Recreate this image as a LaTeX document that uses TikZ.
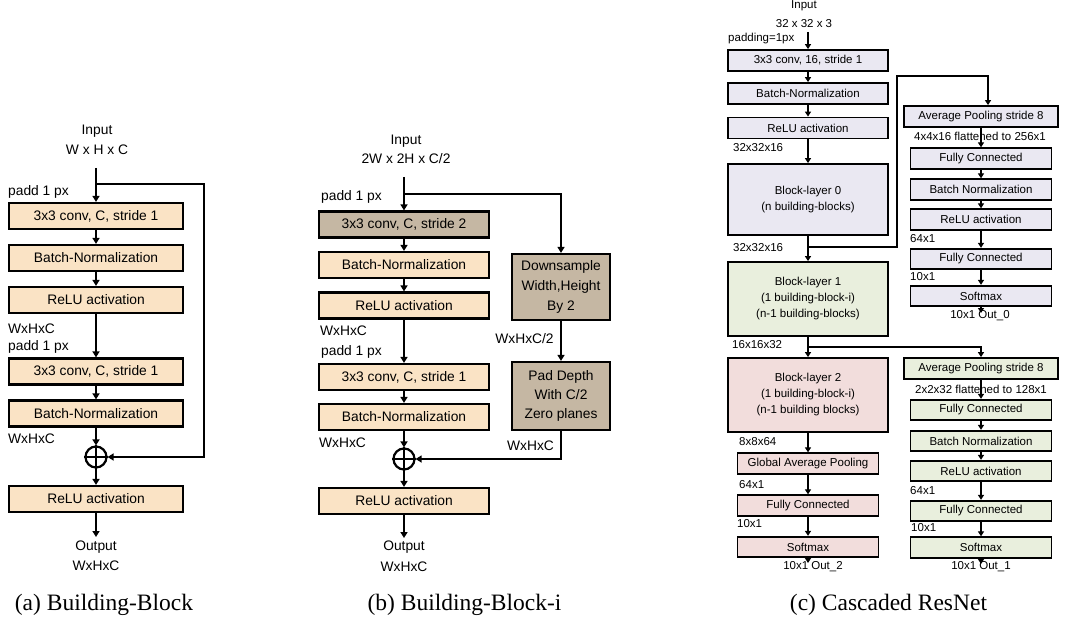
\documentclass[tikz,border=0pt]{standalone}
\usepackage{fontspec}
\setmainfont{Liberation Sans}
\newfontfamily\capfont{Liberation Serif}
\usetikzlibrary{arrows.meta,calc}
\definecolor{tanl}{RGB}{250,227,197}
\definecolor{tand}{RGB}{197,183,163}
\definecolor{lav}{RGB}{234,232,242}
\definecolor{grn}{RGB}{233,239,221}
\definecolor{pnk}{RGB}{242,221,220}
\begin{document}
\begin{tikzpicture}[x=1pt,y=-1pt,
  fa/.style={font=\fontsize{13.8}{20}\selectfont},
  fc/.style={font=\fontsize{11.5}{16}\selectfont},
  boxa/.style={draw, line width=2.2pt, fill=tanl, inner sep=0pt, minimum width=174pt, minimum height=26pt, fa},
  boxb/.style={boxa, minimum width=170pt},
  boxbd/.style={boxb, fill=tand},
  sidebox/.style={draw, line width=2.2pt, fill=tand, inner sep=0pt, minimum width=98pt, align=center, fa},
  boxc/.style={draw, line width=1.8pt, inner sep=0pt, minimum width=160pt, minimum height=21pt, fc},
  blockc/.style={boxc, minimum height=74pt, align=center},
  smallc/.style={boxc, minimum width=141pt, minimum height=20.5pt},
  poolc/.style={boxc, minimum width=154pt, minimum height=21pt},
  plusn/.style={circle, draw, line width=2.2pt, minimum size=21pt, inner sep=0pt},
  lbla/.style={anchor=west, inner sep=0pt, fa},
  lblc/.style={anchor=west, inner sep=0pt, fc},
  txta/.style={inner sep=0pt, fa},
  txtc/.style={inner sep=0pt, fc},
  conA/.style={line width=2pt, -{Triangle[width=7pt,length=6pt]}},
  conC/.style={line width=1.6pt, -{Triangle[width=6pt,length=5pt]}},
  capn/.style={inner sep=0pt, font=\capfont\fontsize{23.5}{26}\selectfont}
]
\useasboundingbox (0,0) rectangle (1067,620);

% ---------------- (a) ----------------
\node[txta] (ainput) at (97,131) {Input};
\node[txta] (ainsz) at (97,150) {W x H x C};
\node[lbla] (apad1) at (8,192) {padd 1 px};
\node[boxa] (a1) at (96,216) {3x3 conv, C, stride 1};
\node[boxa] (a2) at (96,258) {Batch-Normalization};
\node[boxa] (a3) at (96,300) {ReLU activation};
\node[lbla] (aw1) at (8,329) {WxHxC};
\node[lbla] (apad2) at (8,347) {padd 1 px};
\node[boxa] (a4) at (96,371.5) {3x3 conv, C, stride 1};
\node[boxa] (a5) at (96,413.5) {Batch-Normalization};
\node[lbla] (aw2) at (8,439) {WxHxC};
\node[plusn] (ap) at (96,457) {};
\draw[line width=2pt] (ap.north) -- (ap.south) (ap.west) -- (ap.east);
\node[boxa] (a6) at (96,499) {ReLU activation};
\node[txta] (aout1) at (96,547) {Output};
\node[txta] (aout2) at (96,566) {WxHxC};
\coordinate (ain) at (96,168);
\coordinate (askip) at (96,184);
\coordinate (acor) at (204,184);
\coordinate (aend) at (96,537);
\draw[conA] (ain) -- (a1.north);
\draw[conA] (askip) -- (acor) |- (ap.east);
\draw[conA] (a1) -- (a2);
\draw[conA] (a2) -- (a3);
\draw[conA] (a3) -- (a4);
\draw[conA] (a4) -- (a5);
\draw[conA] (a5) -- (ap);
\draw[conA] (ap) -- (a6);
\draw[conA] (a6) -- (aend);
\node[capn] (capa) at (104,605) {(a) Building-Block};

% ---------------- (b) ----------------
\node[txta] (binput) at (406,141) {Input};
\node[txta] (binsz) at (406,159) {2W x 2H x C/2};
\node[lbla] (bpad1) at (321,197) {padd 1 px};
\node[boxbd] (b1) at (404,224.5) {3x3 conv, C, stride 2};
\node[boxb] (b2) at (404,265) {Batch-Normalization};
\node[boxb] (b3) at (404,305.5) {ReLU activation};
\node[lbla] (bw1) at (320,331) {WxHxC};
\node[lbla] (bpad2) at (321,352) {padd 1 px};
\node[boxb] (b4) at (404,377) {3x3 conv, C, stride 1};
\node[boxb] (b5) at (404,417) {Batch-Normalization};
\node[lbla] (bw2) at (319,443) {WxHxC};
\node[plusn] (bp) at (404,459) {};
\draw[line width=2pt] (bp.north) -- (bp.south) (bp.west) -- (bp.east);
\node[boxb] (b6) at (404,501) {ReLU activation};
\node[txta] (bout1) at (404,547) {Output};
\node[txta] (bout2) at (404,567) {WxHxC};
\node[sidebox, minimum height=66pt] (bd) at (561,287) {Downsample\\Width,Height\\By 2};
\node[txta] (bw3) at (524.5,339) {WxHxC/2};
\node[sidebox, minimum height=68pt, font=\fontsize{13.8}{19}\selectfont] (bz) at (561,396) {Pad Depth\\With C/2\\Zero planes};
\node[txta] (bw4) at (530.5,446) {WxHxC};
\coordinate (bin) at (404,177);
\coordinate (bsk) at (404,194);
\coordinate (bend) at (404,538);
\draw[conA] (bin) -- (b1.north);
\draw[conA] (bsk) -| (bd.north);
\draw[conA] (bd) -- (bz);
\draw[conA] (bz.south) |- (bp.east);
\draw[conA] (b1) -- (b2);
\draw[conA] (b2) -- (b3);
\draw[conA] (b3) -- (b4);
\draw[conA] (b4) -- (b5);
\draw[conA] (b5) -- (bp);
\draw[conA] (bp) -- (b6);
\draw[conA] (b6) -- (bend);
\node[capn] (capb) at (464.5,605) {(b) Building-Block-i};

% ---------------- (c) left ----------------
\node[txtc] (cinput) at (804,6) {Input};
\node[txtc] (cinsz) at (804,24) {32 x 32 x 3};
\node[lblc] (cpad) at (728,39) {padding=1px};
\node[boxc, fill=lav] (c1) at (808,60.5) {3x3 conv, 16, stride 1};
\node[boxc, fill=lav] (c2) at (808,93.5) {Batch-Normalization};
\node[boxc, fill=lav] (c3) at (808,128) {ReLU activation};
\node[lblc] (cl1) at (733,148) {32x32x16};
\node[blockc, fill=lav, minimum height=71pt] (c4) at (808,199.5) {Block-layer 0\\(n building-blocks)};
\node[lblc] (cl2) at (733,248) {32x32x16};
\node[blockc, fill=grn] (c5) at (808,299) {Block-layer 1\\(1 building-block-i)\\(n-1 building-blocks)};
\node[lblc] (cl3) at (732,345) {16x16x32};
\node[blockc, fill=pnk] (c6) at (808,395) {Block-layer 2\\(1 building-block-i)\\(n-1 building blocks)};
\node[lblc] (cl4) at (739,442) {8x8x64};
\node[smallc, fill=pnk] (c7) at (808,463.5) {Global Average Pooling};
\node[lblc] (cl5) at (739,485) {64x1};
\node[smallc, fill=pnk] (c8) at (808,505.5) {Fully Connected};
\node[lblc] (cl6) at (737,524) {10x1};
\node[smallc, fill=pnk] (c9) at (808,547) {Softmax};
\node[txtc] (cout) at (813,567) {10x1 Out\_2};

% ---------------- (c) right upper ----------------
\node[poolc, fill=lav] (r1) at (981,116.5) {Average Pooling stride 8};
\node[txtc] (rl1) at (980,136) {4x4x16 flattened to 256x1};
\node[smallc, fill=lav] (r2) at (981,158.5) {Fully Connected};
\node[smallc, fill=lav] (r3) at (981,189.5) {Batch Normalization};
\node[smallc, fill=lav] (r4) at (981,219.5) {ReLU activation};
\node[lblc] (rl2) at (910,239) {64x1};
\node[smallc, fill=lav] (r5) at (981,259) {Fully Connected};
\node[lblc] (rl3) at (910,277) {10x1};
\node[smallc, fill=lav] (r6) at (981,296) {Softmax};
\node[txtc] (rout) at (980,316) {10x1 Out\_0};

% ---------------- (c) right lower ----------------
\node[poolc, fill=grn] (g1) at (981,368.5) {Average Pooling stride 8};
\node[txtc] (gl1) at (981,389) {2x2x32 flattened to 128x1};
\node[smallc, fill=grn] (g2) at (981,410) {Fully Connected};
\node[smallc, fill=grn] (g3) at (981,441) {Batch Normalization};
\node[smallc, fill=grn] (g4) at (981,471) {ReLU activation};
\node[lblc] (gl2) at (910,491) {64x1};
\node[smallc, fill=grn] (g5) at (981,511) {Fully Connected};
\node[lblc] (gl3) at (911,528) {10x1};
\node[smallc, fill=grn] (g6) at (981,547.5) {Softmax};
\node[txtc] (gout) at (981,567) {10x1 Out\_1};

\node[capn] (capc) at (888.5,605) {(c) Cascaded ResNet};

% connectors (c)
\coordinate (cin) at (808,32);
\coordinate (cend) at (808,563);
\coordinate (cb0) at (808,247);
\coordinate (cb0a) at (897,76);
\coordinate (cb1) at (808,347);
\coordinate (rend) at (981,313);
\coordinate (gend) at (981,564);
\draw[conC] (cin) -- (c1.north);
\draw[conC] (c1) -- (c2);
\draw[conC] (c2) -- (c3);
\draw[conC] (c3) -- (c4);
\draw[conC] (c4) -- (c5);
\draw[conC] (c5) -- (c6);
\draw[conC] (c6) -- (c7);
\draw[conC] (c7) -- (c8);
\draw[conC] (c8) -- (c9);
\draw[conC] (c9) -- (cend);
\draw[conC] (cb0) -| (cb0a) -| ($(r1.north)+(7,0)$);
\draw[conC] (cb1) -| (g1.north);
\draw[conC] (r1) -- (r2);
\draw[conC] (r2) -- (r3);
\draw[conC] (r3) -- (r4);
\draw[conC] (r4) -- (r5);
\draw[conC] (r5) -- (r6);
\draw[conC] (r6) -- (rend);
\draw[conC] (g1) -- (g2);
\draw[conC] (g2) -- (g3);
\draw[conC] (g3) -- (g4);
\draw[conC] (g4) -- (g5);
\draw[conC] (g5) -- (g6);
\draw[conC] (g6) -- (gend);
\end{tikzpicture}
\end{document}
